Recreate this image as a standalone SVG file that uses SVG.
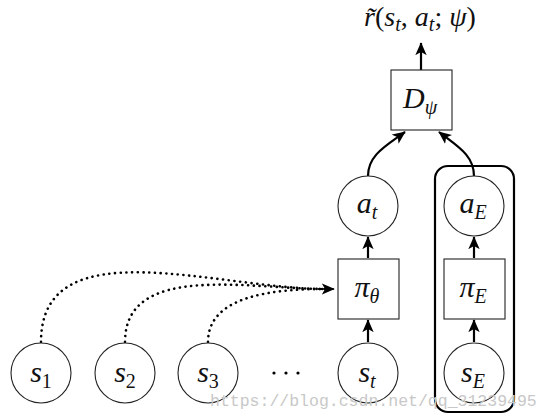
<svg xmlns="http://www.w3.org/2000/svg" width="550" height="420" viewBox="0 0 550 420">
<defs>
<marker id="ah2" viewBox="0 0 16 16" refX="15" refY="8" markerWidth="13" markerHeight="13" markerUnits="userSpaceOnUse" orient="auto">
<path d="M0,1 L16,8 L0,15 L4,8 Z" fill="#000"/>
</marker>
</defs>
<style>
.n{fill:#fff;stroke:#222;stroke-width:1.1}
.t{font-family:"Liberation Serif","DejaVu Serif",serif;font-style:italic;font-size:30px;text-anchor:middle;fill:#111}
.sub{font-size:20px}
.up{font-style:normal}
.e{fill:none;stroke:#000;stroke-width:2.2;marker-end:url(#ah2)}
.d{fill:none;stroke:#000;stroke-width:2.6;stroke-dasharray:0.1 5.6;stroke-linecap:round}
.wm{font-family:"Liberation Mono",monospace;font-size:16.5px;fill:#c8c8c8}
</style>
<rect width="550" height="420" fill="#fff"/>
<g id="connectors">
<path class="d" d="M41,342 C41,227 217,289 326,289"/>
<path class="d" d="M125,342 C125,262 249,289 326,289"/>
<path class="d" d="M208,342 C208,295 275,289 326,289"/>
<path d="M318,289 L334,289" fill="none" stroke="#000" stroke-width="1.5" marker-end="url(#ah2)"/>
<path class="e" d="M368,342 L368,320"/>
<path class="e" d="M368,258 L368,237"/>
<path class="e" d="M474,342 L474,320"/>
<path class="e" d="M474,258 L474,237"/>
<path class="e" d="M368,176 C368,155 386,146 405,132"/>
<path class="e" d="M474,176 C474,155 457,146 439,132"/>
<path class="e" d="M421,70 L421,43"/>
</g>
<g id="expert">
<rect x="435" y="166" width="79" height="246" rx="13" fill="none" stroke="#000" stroke-width="2.2"/>
</g>
<g id="s1"><circle class="n" cx="41" cy="373" r="30"/><text class="t" x="41" y="382">s<tspan class="sub up" dy="6">1</tspan></text></g>
<g id="s2"><circle class="n" cx="125" cy="373" r="30"/><text class="t" x="125" y="382">s<tspan class="sub up" dy="6">2</tspan></text></g>
<g id="s3"><circle class="n" cx="208" cy="373" r="30"/><text class="t" x="208" y="382">s<tspan class="sub up" dy="6">3</tspan></text></g>
<g id="dots"><circle cx="274" cy="373" r="1.6"/><circle cx="286" cy="373" r="1.6"/><circle cx="298" cy="373" r="1.6"/></g>
<g id="st"><circle class="n" cx="368" cy="373" r="30"/><text class="t" x="367" y="382">s<tspan class="sub" dy="6">t</tspan></text></g>
<g id="sE"><circle class="n" cx="474" cy="373" r="30"/><text class="t" x="473" y="382">s<tspan class="sub" dy="6">E</tspan></text></g>
<g id="pitheta"><rect class="n" x="338" y="259" width="61" height="60"/><text class="t" x="367" y="297">π<tspan class="sub" dy="6">θ</tspan></text></g>
<g id="piE"><rect class="n" x="444" y="259" width="61" height="60"/><text class="t" x="473" y="297">π<tspan class="sub" dy="6">E</tspan></text></g>
<g id="at"><circle class="n" cx="368" cy="206" r="30"/><text class="t" x="367" y="213">a<tspan class="sub" dy="6">t</tspan></text></g>
<g id="aE"><circle class="n" cx="474" cy="206" r="30"/><text class="t" x="473" y="213">a<tspan class="sub" dy="6">E</tspan></text></g>
<g id="D"><rect class="n" x="391" y="70" width="61" height="60"/><text class="t" x="420" y="108">D<tspan class="sub" dy="6">ψ</tspan></text></g>
<g id="reward"><text class="t" x="420" y="26" style="font-size:28px">r̃<tspan class="up">(</tspan>s<tspan class="sub" dy="5">t</tspan><tspan class="up" dy="-5">, </tspan>a<tspan class="sub" dy="5">t</tspan><tspan class="up" dy="-5">; </tspan>ψ<tspan class="up">)</tspan></text></g>
<text class="wm" x="210" y="406">https://blog.csdn.net/qq_31239495</text>
</svg>
